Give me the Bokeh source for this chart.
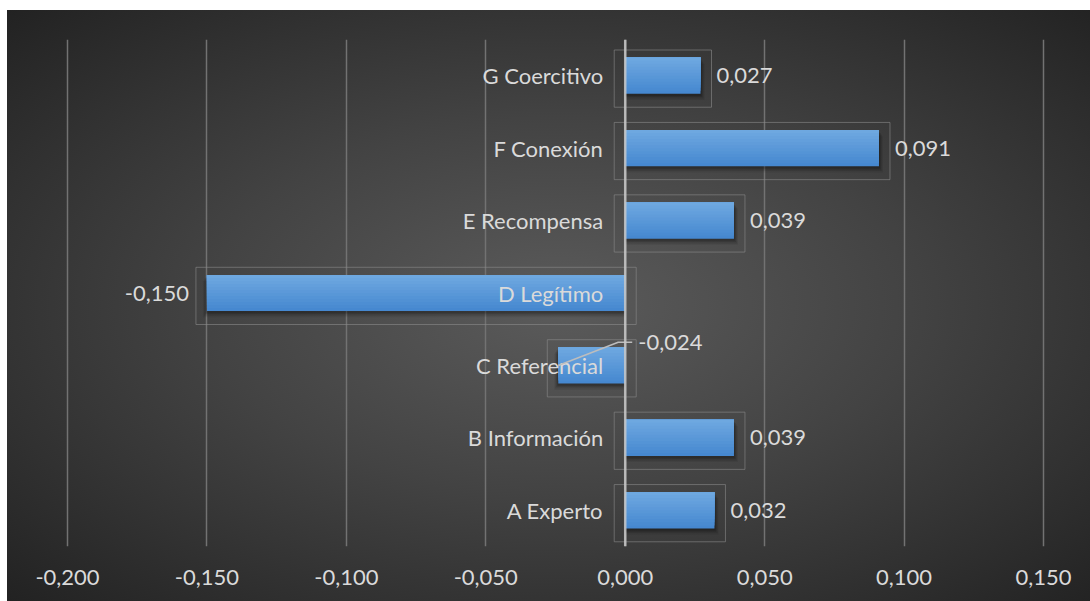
import numpy as np
from bokeh.plotting import figure
from bokeh.models import Range1d, FixedTicker, CustomJSTickFormatter, Span, ColumnDataSource
from bokeh.core.properties import value
from bokeh.embed import file_html
from bokeh.resources import INLINE

# ---- data ----
categories = ["A Experto", "B Información", "C Referencial", "D Legítimo",
              "E Recompensa", "F Conexión", "G Coercitivo"]
values = [0.032, 0.039, -0.024, -0.150, 0.039, 0.091, 0.027]
value_labels = ["0,032", "0,039", "-0,024", "-0,150", "0,039", "0,091", "0,027"]
x_ticks = [-0.200, -0.150, -0.100, -0.050, 0.000, 0.050, 0.100, 0.150]
moved_label = "C Referencial"   # data label that was dragged off its bar

FONT = "Lato"
TXT = "#dadada"

vals = np.array(values)
ypos = np.arange(len(categories), dtype=float)

px = 2788.6  # pixels per data unit (x)
x0 = -0.2 - 40 / px
x1 = 0.15 + 40 / px

p = figure(frame_width=1056, frame_height=507,
           min_border_left=20, min_border_right=7, min_border_top=29, min_border_bottom=55,
           x_range=Range1d(x0, x1), y_range=Range1d(-0.5, len(categories) - 0.5),
           output_backend="svg", toolbar_location=None,
           background_fill_color=None, border_fill_color=None, outline_line_color=None,
           margin=(10, 0, 0, 7),
           styles={"background": "radial-gradient(ellipse farthest-corner at 51% 50%, #5b5b5b 0%, #434343 45%, #222222 100%)"})

p.yaxis.visible = False
p.ygrid.grid_line_color = None
p.xgrid.ticker = FixedTicker(ticks=x_ticks)
p.xgrid.grid_line_color = "#727272"
p.xgrid.grid_line_width = 1.5

xa = p.xaxis[0]
xa.ticker = FixedTicker(ticks=x_ticks)
xa.formatter = CustomJSTickFormatter(code="return tick.toFixed(3).replace('.', ',').replace(/^-0,000$/, '0,000');")
xa.axis_line_color = None
xa.major_tick_line_color = None
xa.minor_tick_line_color = None
xa.major_label_text_font = FONT
xa.major_label_text_font_size = "22px"
xa.major_label_text_color = TXT
xa.major_label_standoff = 17

# frames around each bar + label box
pad = 11 / px
p.quad(left=np.minimum(0, vals) - pad, right=np.maximum(0, vals) + pad,
       bottom=ypos - 0.395 - 0.04, top=ypos + 0.395 - 0.04,
       fill_color=None, line_color="#8a8a8a", line_alpha=0.6, line_width=1)

# soft shadows
sgn = np.sign(vals)
for dy, dx, a in [(0.085, 4, 0.07), (0.065, 3, 0.09), (0.045, 2, 0.12), (0.03, 1, 0.12)]:
    p.hbar(y=ypos - dy, left=0, right=vals + sgn * (dx / px), height=0.5,
           fill_color="black", fill_alpha=a, line_color=None)

# bars: layered vertical gradient (each layer from bar top down to a level)
n = 12
top_c = np.array([0x70, 0xa9, 0xe1])
bot_c = np.array([0x44, 0x87, 0xcf])
for k in range(n, 0, -1):
    t = (k - 0.5) / n
    c = top_c * (1 - t) + bot_c * t
    col = "#%02x%02x%02x" % tuple(int(round(v)) for v in c)
    frac = k / n
    p.quad(left=np.minimum(0, vals), right=np.maximum(0, vals),
           top=ypos + 0.25, bottom=ypos + 0.25 - 0.5 * frac,
           fill_color=col, line_color=None)

# zero line
p.add_layout(Span(location=0, dimension="height", line_color="#c8c8c8",
                  line_alpha=0.85, line_width=2.5, level="overlay"))

# category labels next to zero
p.text(x=np.zeros(len(categories)), y=ypos, text=categories, x_offset=-22,
       text_align="right", text_baseline="middle", text_font=value(FONT),
       text_font_size="22px", text_color=TXT, level="overlay")

# data labels
moved = np.array([c == moved_label for c in categories])
src = ColumnDataSource(dict(
    x=vals[~moved], y=ypos[~moved],
    t=[l for l, m in zip(value_labels, moved) if not m],
    off=np.where(vals[~moved] >= 0, 16, -18),
    al=["left" if v >= 0 else "right" for v in vals[~moved]]))
p.text(x="x", y="y", text="t", x_offset="off", text_align="al", source=src,
       text_baseline="middle", text_font=value(FONT), text_font_size="22px",
       text_color=TXT, level="overlay")

# moved label with leader line
mi = int(np.where(moved)[0][0])
ly = ypos[mi] + 0.32
p.line(x=[vals[mi], -7 / px, 7 / px], y=[ypos[mi], ly, ly],
       line_color="#bdbdbd", line_width=1.5, level="overlay")
p.text(x=[0.0], y=[ly], text=[value_labels[mi]], x_offset=13,
       text_align="left", text_baseline="middle", text_font=value(FONT),
       text_font_size="22px", text_color=TXT, level="overlay")

open("out.html", "w").write(file_html(p, INLINE))
